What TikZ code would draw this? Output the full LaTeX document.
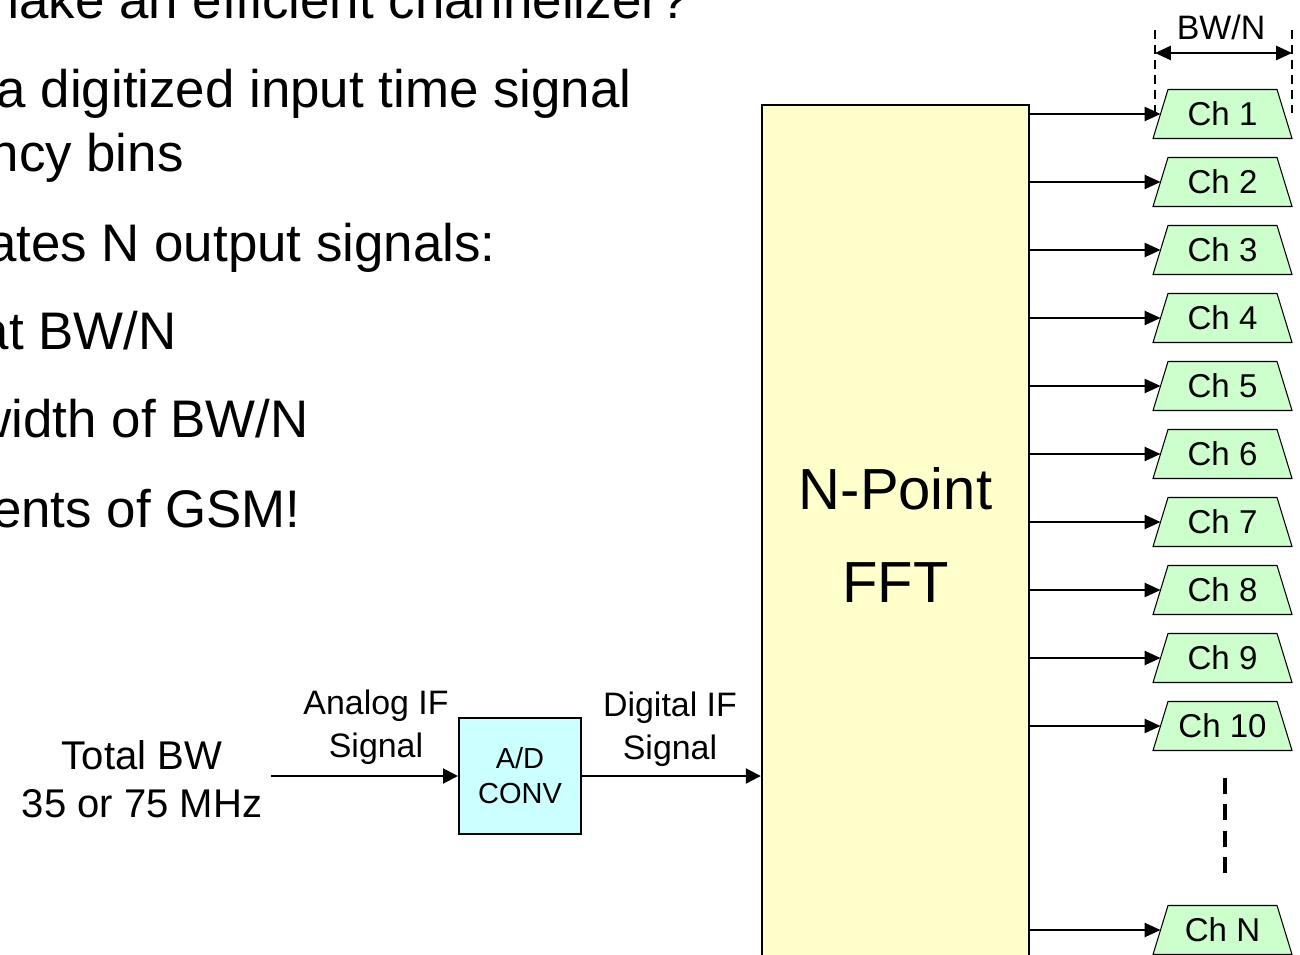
\documentclass[tikz,border=0pt]{standalone}
\usepackage{fontspec}
\setmainfont{Liberation Sans}
\usetikzlibrary{calc,arrows.meta}
\definecolor{fftyellow}{RGB}{255,255,204}
\definecolor{adcyan}{RGB}{204,255,255}
\definecolor{chgreen}{RGB}{204,255,204}

\begin{document}
\begin{tikzpicture}[x=0.02cm,y=-0.02cm]
\tikzstyle{every node}+=[inner sep=0pt]
\tikzstyle{bullet}=[anchor=base east,font=\fontsize{30.1}{36}\selectfont]
\tikzstyle{lbl}=[align=center,font=\fontsize{19.3}{24.3}\selectfont]
\tikzstyle{sig}=[line width=1.2pt,-{Triangle[length=8.5pt,width=8.5pt]}]
\tikzstyle{chanarrow}=[line width=1pt,-{Triangle[length=9pt,width=8pt]}]
\tikzstyle{chanshape}=[draw=black,line width=0.6pt,fill=chgreen,line join=miter]
\tikzstyle{chantext}=[font=\fontsize{18.8}{22}\selectfont]
\tikzstyle{tick}=[line width=1.2pt,dash pattern=on 5pt off 3.5pt]
\useasboundingbox (0,0) rectangle (1300,955);
\clip (0,0) rectangle (1300,955);

\node[bullet] (t1) at (689,19) {make an efficient channelizer?};
\node[bullet] (t2) at (632,108) {a digitized input time signal};
\node[bullet] (t3) at (184,172) {ency bins};
\node[bullet] (t4) at (496,262) {rates N output signals:};
\node[bullet] (t5) at (177,350) {at BW/N};
\node[bullet] (t6) at (309,438) {width of BW/N};
\node[bullet] (t7) at (301,527) {ents of GSM!};

\node[draw,fill=fftyellow,line width=1.4pt,minimum width=5.34cm,minimum height=17.2cm,
  align=center,font=\fontsize{33}{53}\selectfont] (fft) at (895.5,535) {N-Point\\FFT};
\node[draw,fill=adcyan,line width=1.2pt,minimum width=2.44cm,minimum height=2.32cm,
  align=center,font=\fontsize{16.5}{20}\selectfont] (adc) at (520,776) {A/D\\CONV};
\node[align=center,inner xsep=5pt,font=\fontsize{22.8}{27.3}\selectfont] (src) at (142,779)
  {Total BW\\35 or 75 MHz};
\node[lbl] (alabel) at (376,727) {Analog IF\\Signal};
\node[lbl] (dlabel) at (670,729) {Digital IF\\Signal};

\draw[sig] (src.east |- adc.west) -- (adc.west);
\draw[sig] (adc.east) -- (adc.east -| fft.west);

\draw[tick] (1155,30) -- (1155,113);
\draw[tick] (1292,30) -- (1292,115);
\coordinate (bwl) at (1155,53);
\coordinate (bwr) at (1292,53);
\draw[line width=1.2pt,{Triangle[length=9pt,width=8pt]}-{Triangle[length=9pt,width=8pt]}] (bwl) -- (bwr);
\node[font=\fontsize{19.3}{22}\selectfont] (bw) at (1221,27) {BW/N};

\foreach \i/\y in {1/114,2/182,3/250,4/318,5/386,6/454,7/522,8/590,9/658,10/726,N/930}{
  \filldraw[chanshape] (1153,\y+24.5) -- ++(15,-49) -- ++(109,0) -- ++(15,49) -- cycle;
  \node[chantext] (ch\i) at (1222.5,\y) {Ch \i};
  \coordinate (in\i) at (1160.5,\y);
  \draw[chanarrow] (fft.east |- in\i) -- (in\i);
}

\draw[line width=2.2pt,dash pattern=on 9pt off 6pt] (1225,778) -- (1225,880);
\end{tikzpicture}
\end{document}
